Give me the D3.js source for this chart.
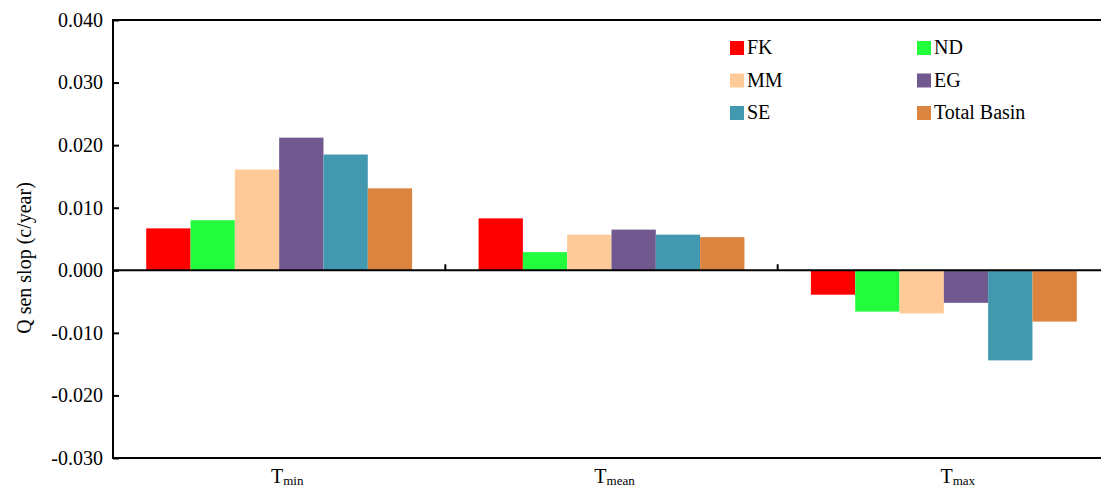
<!DOCTYPE html>
<html>
<head>
<meta charset="utf-8">
<script src="https://cdn.jsdelivr.net/npm/d3@7"></script>
<style>
  html, body { margin: 0; padding: 0; background: #fff; }
  svg { display: block; }
</style>
</head>
<body>
<svg id="chart" width="1101" height="488"></svg>
<script>
// ---- data ----
const categories = ["min", "mean", "max"];          // subscripts of T
const seriesNames = ["FK", "ND", "MM", "EG", "SE", "Total Basin"];
const FK         = [0.0067, 0.0083, -0.0039];
const ND         = [0.0080, 0.0029, -0.0066];
const MM         = [0.0161, 0.0057, -0.0069];
const EG         = [0.0212, 0.0065, -0.0052];
const SE         = [0.0185, 0.0057, -0.0144];
const TotalBasin = [0.0131, 0.0053, -0.0082];
const yTicks = [-0.03, -0.02, -0.01, 0, 0.01, 0.02, 0.03, 0.04];
const colors = ["#ff0000", "#23fc3c", "#fecb98", "#71588f", "#4298af", "#da843f"];

const seriesValues = [FK, ND, MM, EG, SE, TotalBasin];

(function () {
const FONT = '"Liberation Serif", "Times New Roman", "DejaVu Serif", serif';
const svg = d3.select("#chart");
const pLeft = 113, pRight = 1110, pTop = 20, pBottom = 458;

const x = d3.scaleBand().domain(categories).range([pLeft, pRight]).paddingInner(0).paddingOuter(0);
const xs = d3.scaleBand().domain(seriesNames).range([0, x.bandwidth()]).paddingInner(0).paddingOuter(0.75);
const y = d3.scaleLinear().domain([-0.03, 0.04]).range([pBottom, pTop]);

// bars
const g = svg.append("g");
categories.forEach((c, ci) => {
  seriesNames.forEach((s, si) => {
    const v = seriesValues[si][ci];
    g.append("rect")
      .attr("x", x(c) + xs(s))
      .attr("width", xs.bandwidth())
      .attr("y", y(Math.max(0, v)))
      .attr("height", Math.abs(y(v) - y(0)))
      .attr("fill", colors[si]);
  });
});

// y axis ticks (inward)
const yAxis = d3.axisRight(y).tickValues(yTicks).tickSize(6).tickFormat("");
const ya = svg.append("g").attr("transform", `translate(${pLeft},0)`).call(yAxis);
ya.select(".domain").remove();
ya.selectAll(".tick line").attr("stroke", "#000").attr("stroke-width", 2);
svg.append("line").attr("x1", pLeft).attr("x2", pLeft).attr("y1", pTop - 1).attr("y2", pBottom + 1)
  .attr("stroke", "#000").attr("stroke-width", 2);
svg.selectAll(".ylab").data(yTicks).enter().append("text")
  .attr("x", pLeft - 10).attr("y", d => y(d)).attr("dy", "0.34em")
  .attr("text-anchor", "end")
  .style("font-family", FONT).style("font-size", "20px").style("fill", "#000")
  .text(d => d.toFixed(3));

// frame lines top & bottom
[pTop, pBottom].forEach(yy => {
  svg.append("line").attr("x1", pLeft).attr("x2", pRight).attr("y1", yy).attr("y2", yy)
    .attr("stroke", "#000").attr("stroke-width", 2);
});

// zero line with category boundary ticks
svg.append("line").attr("x1", pLeft).attr("x2", pRight).attr("y1", y(0)).attr("y2", y(0))
  .attr("stroke", "#000").attr("stroke-width", 2);
categories.slice(1).forEach(c => {
  svg.append("line").attr("x1", x(c)).attr("x2", x(c)).attr("y1", y(0)).attr("y2", y(0) - 6)
    .attr("stroke", "#000").attr("stroke-width", 2);
});

// category labels T_sub
const labelDx = [8, 3, 14];
categories.forEach((c, i) => {
  const t = svg.append("text")
    .attr("x", x(c) + x.bandwidth() / 2 + labelDx[i]).attr("y", 483)
    .attr("text-anchor", "middle")
    .style("font-family", FONT).style("font-size", "20px").style("fill", "#000");
  t.append("tspan").text("T");
  t.append("tspan").attr("dy", 2).style("font-size", "13px").text(c);
});

// y axis title
svg.append("text")
  .attr("transform", `translate(31,258) rotate(-90)`)
  .attr("text-anchor", "middle")
  .style("font-family", FONT).style("font-size", "20px").style("fill", "#000")
  .text("Q sen slop (c/year)");

// legend
const legX = [730, 917], legY = [41, 73.5, 106];
seriesNames.forEach((s, i) => {
  const col = i % 2, row = Math.floor(i / 2);
  svg.append("rect").attr("x", legX[col]).attr("y", legY[row]).attr("width", 14).attr("height", 14)
    .attr("fill", colors[i]);
  svg.append("text").attr("x", legX[col] + 17).attr("y", legY[row] + 13)
    .style("font-family", FONT).style("font-size", "20px").style("fill", "#000")
    .text(s);
});
})();
</script>
</body>
</html>
